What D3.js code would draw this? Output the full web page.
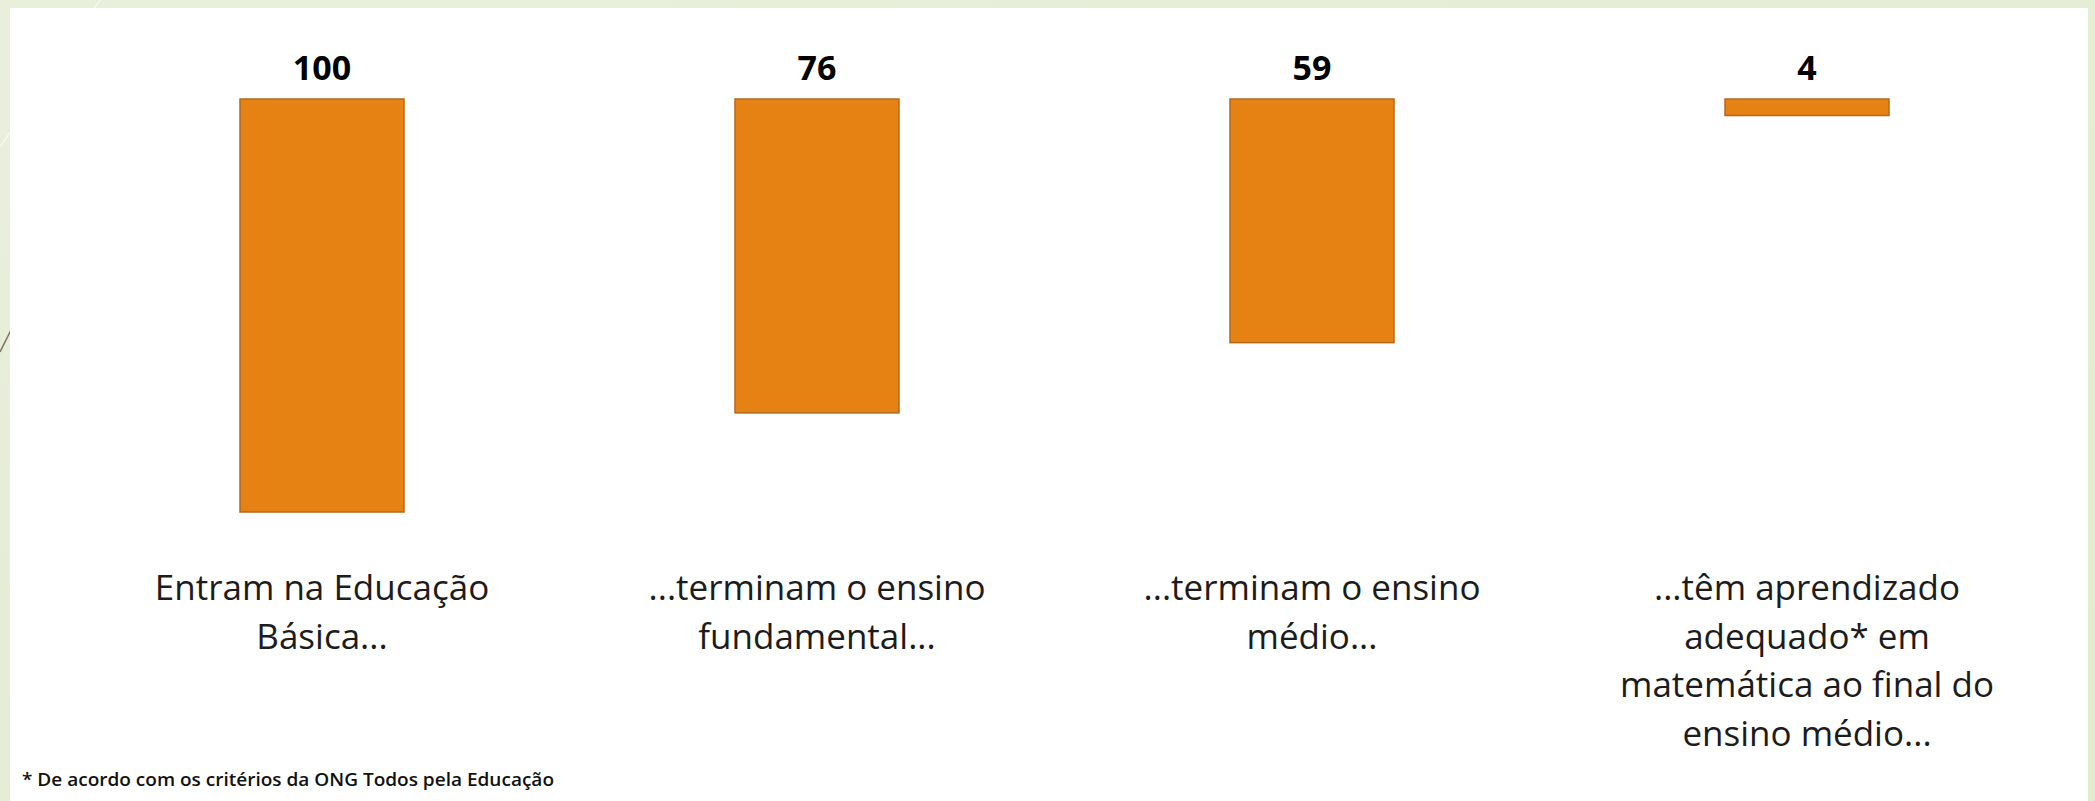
<!DOCTYPE html>
<html>
<head>
<meta charset="utf-8">
<script src="https://cdn.jsdelivr.net/npm/d3@7"></script>
<style>
    html, body { margin: 0; padding: 0; background: #e5ecd4; }
    svg { display: block; }
</style>
</head>
<body>
<div id="chart"></div>
<script>
'use strict';

var categories = ['basica', 'fundamental', 'medio', 'matematica'];
var values = [100, 76, 59, 4];
var labelLines = [
    ['Entram na Educação', 'Básica...'],
    ['...terminam o ensino', 'fundamental...'],
    ['...terminam o ensino', 'médio...'],
    ['...têm aprendizado', 'adequado* em', 'matemática ao final do', 'ensino médio...']
];
var footnote = '* De acordo com os critérios da ONG Todos pela Educação';

var w = 2095;
var h = 801;
var barWidth = 164;

var svg = d3.select('#chart').append('svg')
    .attr('width', w)
    .attr('height', h);

// background decoration
var grad = svg.append('defs').append('linearGradient')
    .attr('id', 'bg')
    .attr('x1', 0).attr('y1', 0).attr('x2', 1).attr('y2', 1);
grad.append('stop').attr('offset', '0%').attr('stop-color', '#e9efdb');
grad.append('stop').attr('offset', '100%').attr('stop-color', '#e2eacf');

svg.append('rect')
    .attr('width', w).attr('height', h)
    .attr('fill', 'url(#bg)');

svg.append('line')
    .attr('x1', 100).attr('y1', 0).attr('x2', 0).attr('y2', 147)
    .attr('stroke', '#f7f8f0').attr('stroke-width', 1.5);
svg.append('line')
    .attr('x1', 13).attr('y1', 326).attr('x2', 0).attr('y2', 352)
    .attr('stroke', '#7d7462').attr('stroke-width', 1.5);

// white panel
svg.append('rect')
    .attr('x', 10).attr('y', 8)
    .attr('width', 2078).attr('height', h - 8)
    .attr('fill', '#ffffff');

var x = d3.scalePoint()
    .domain(categories)
    .range([322, 1807]);

var y = d3.scaleLinear()
    .domain([0, 100])
    .range([99, 512]);

var data = categories.map(function (c, i) {
    return { key: c, value: values[i], lines: labelLines[i] };
});

var g = svg.append('g').attr('id', 'board');

g.selectAll('.bar')
    .data(data)
    .enter()
    .append('rect')
    .attr('class', 'bar')
    .attr('x', function (d) { return x(d.key) - barWidth / 2; })
    .attr('y', y(0))
    .attr('width', barWidth)
    .attr('height', function (d) { return y(d.value) - y(0); })
    .attr('fill', '#e58213')
    .attr('stroke', '#b5681a')
    .attr('stroke-width', 1.5);

g.selectAll('.value')
    .data(data)
    .enter()
    .append('text')
    .attr('class', 'value')
    .attr('x', function (d) { return x(d.key); })
    .attr('y', 80)
    .attr('text-anchor', 'middle')
    .attr('font-family', 'Open Sans, sans-serif')
    .attr('font-weight', 'bold')
    .attr('font-size', 34)
    .attr('fill', '#000000')
    .text(function (d) { return d.value; });

var labels = g.selectAll('.label')
    .data(data)
    .enter()
    .append('text')
    .attr('class', 'label')
    .attr('text-anchor', 'middle')
    .attr('font-family', 'Open Sans, sans-serif')
    .attr('font-size', 35)
    .attr('fill', '#1c1c1c');

labels.selectAll('tspan')
    .data(function (d) { return d.lines.map(function (l) { return { key: d.key, line: l }; }); })
    .enter()
    .append('tspan')
    .attr('x', function (d) { return x(d.key); })
    .attr('y', function (d, i) { return 600 + i * 48.5; })
    .text(function (d) { return d.line; });

svg.append('text')
    .attr('x', 22)
    .attr('y', 786)
    .attr('font-family', 'Open Sans, sans-serif')
    .attr('font-size', 18)
    .attr('font-weight', 600)
    .attr('textLength', 532)
    .attr('lengthAdjust', 'spacingAndGlyphs')
    .attr('fill', '#111111')
    .text(footnote);
</script>
</body>
</html>
